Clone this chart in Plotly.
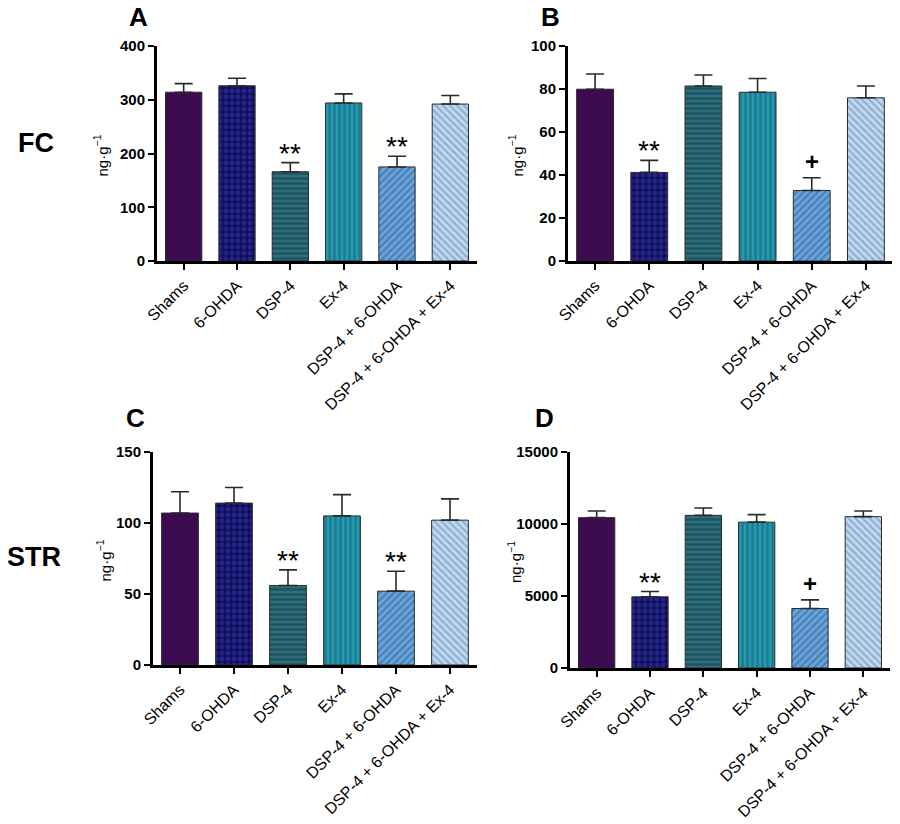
import plotly.graph_objects as go

groups = ["Shams", "6-OHDA", "DSP-4", "Ex-4", "DSP-4 + 6-OHDA", "DSP-4 + 6-OHDA + Ex-4"]

# FC (frontal cortex)
fc_a_mean = [314, 326, 166, 294, 175, 292]
fc_a_sem = [16, 14, 17, 17, 20, 16]
fc_b_mean = [79.9, 41.2, 81.4, 78.5, 32.8, 75.9]
fc_b_sem = [7.1, 5.6, 5.1, 6.4, 5.9, 5.5]

# STR (striatum)
str_c_mean = [107, 114, 56, 105, 52, 102]
str_c_sem = [15, 11, 11, 15, 14, 15]
str_d_mean = [10440, 4940, 10600, 10130, 4130, 10510]
str_d_sem = [460, 370, 510, 520, 600, 390]

marks_ac = ["", "", "**", "", "**", ""]
marks_bd = ["", "**", "", "", "+", ""]

ticks_a = [0, 100, 200, 300, 400]
ticks_b = [0, 20, 40, 60, 80, 100]
ticks_c = [0, 50, 100, 150]
ticks_d = [0, 5000, 10000, 15000]

# bar fills: (background, pattern shape, foreground)
fills = [
    ("#3c0b50", "", "#3c0b50"),
    ("#10105a", ".", "#3838b8"),
    ("#2f6e7c", "-", "#10363f"),
    ("#2499b0", "|", "#135a6a"),
    ("#6aa6dc", "/", "#2a5890"),
    ("#c2d9ef", "\\", "#5c86b8"),
]

W, H = 900, 824
FONT = "Liberation Sans, Arial"
OFF = 8  # page body margin


def px_x(p):
    return (p - OFF) / W


def px_y(p):
    return 1 - (p - OFF) / H


panels = [
    # mean, sem, marks, ticks, x px domain, y px domain, letter, letter pos, title x
    (fc_a_mean, fc_a_sem, marks_ac, ticks_a, (157, 477), (46, 261), "A", (138, 17), 101),
    (fc_b_mean, fc_b_sem, marks_bd, ticks_b, (568, 893), (46, 261), "B", (550, 17), 516),
    (str_c_mean, str_c_sem, marks_ac, ticks_c, (153, 477), (452, 665), "C", (135, 418), 104),
    (str_d_mean, str_d_sem, marks_bd, ticks_d, (570, 890), (452, 668), "D", (544, 418), 514),
]

fig = go.Figure()
annotations = []

for k, (mean, sem, marks, ticks, xd, yd, letter, lpos, tx) in enumerate(panels):
    sfx = "" if k == 0 else str(k + 1)
    for i, g in enumerate(groups):
        bg, shape, fg = fills[i]
        fig.add_trace(go.Bar(
            x=[g], y=[mean[i]],
            xaxis="x" + sfx, yaxis="y" + sfx,
            width=0.68,
            marker=dict(
                color=bg,
                line=dict(color="#2a2a2a", width=1),
                pattern=dict(shape=shape, bgcolor=bg, fgcolor=fg,
                             size=5 if shape != "." else 6,
                             solidity=0.45 if shape != "." else 0.5),
            ),
            error_y=dict(type="data", symmetric=False, array=[sem[i]], arrayminus=[0],
                         color="#2a2a2a", thickness=1.6, width=9),
            showlegend=False,
        ))
        if marks[i]:
            star = marks[i] == "**"
            annotations.append(dict(
                x=g, y=mean[i] + sem[i], xref="x" + sfx, yref="y" + sfx,
                text=marks[i] if star else "<b>+</b>", showarrow=False,
                xanchor="center", yanchor="bottom",
                yshift=-8 if star else 1,
                font=dict(size=28 if star else 24, color="black", family=FONT),
            ))
    fig.update_layout({
        "xaxis" + sfx: dict(
            domain=[px_x(xd[0]), px_x(xd[1])], anchor="y" + sfx,
            range=[-0.5, 5.5], showline=True, linecolor="black", linewidth=3,
            ticks="outside", ticklen=6, tickwidth=2, tickcolor="black",
            tickangle=-45, showgrid=False, zeroline=False, automargin=False,
            tickfont=dict(size=16, color="black", family=FONT),
        ),
        "yaxis" + sfx: dict(
            domain=[px_y(yd[1]), px_y(yd[0])], anchor="x" + sfx,
            range=[0, ticks[-1]], tickvals=ticks,
            ticktext=["<b>%d</b>" % t for t in ticks],
            showline=True, linecolor="black",
            linewidth=3, ticks="outside", ticklen=6, tickwidth=2, tickcolor="black",
            showgrid=False, zeroline=False, automargin=False,
            tickfont=dict(size=15, color="black", family=FONT),
        ),
    })
    annotations.append(dict(
        x=px_x(lpos[0]), y=px_y(lpos[1]), xref="paper", yref="paper",
        xanchor="center", yanchor="middle",
        text="<b>%s</b>" % letter, showarrow=False,
        font=dict(size=26, color="black", family=FONT),
    ))
    annotations.append(dict(
        x=px_x(tx), y=px_y((yd[0] + yd[1]) / 2 + 2), xref="paper", yref="paper",
        xanchor="center", yanchor="middle",
        text="ng·g<sup>−1</sup>", showarrow=False, textangle=-90,
        font=dict(size=15, color="black", family=FONT),
    ))

annotations.append(dict(x=px_x(36), y=px_y(143), xref="paper", yref="paper",
                        xanchor="center", yanchor="middle",
                        text="<b>FC</b>", showarrow=False,
                        font=dict(size=27, color="black", family=FONT)))
annotations.append(dict(x=px_x(34), y=px_y(557), xref="paper", yref="paper",
                        xanchor="center", yanchor="middle",
                        text="<b>STR</b>", showarrow=False,
                        font=dict(size=27, color="black", family=FONT)))

fig.update_layout(
    width=W, height=H,
    margin=dict(l=0, r=0, t=0, b=0, autoexpand=False),
    paper_bgcolor="white", plot_bgcolor="white",
    bargap=0.32,
    annotations=annotations,
    font=dict(family=FONT, color="black"),
)

fig.write_html("out.html")
